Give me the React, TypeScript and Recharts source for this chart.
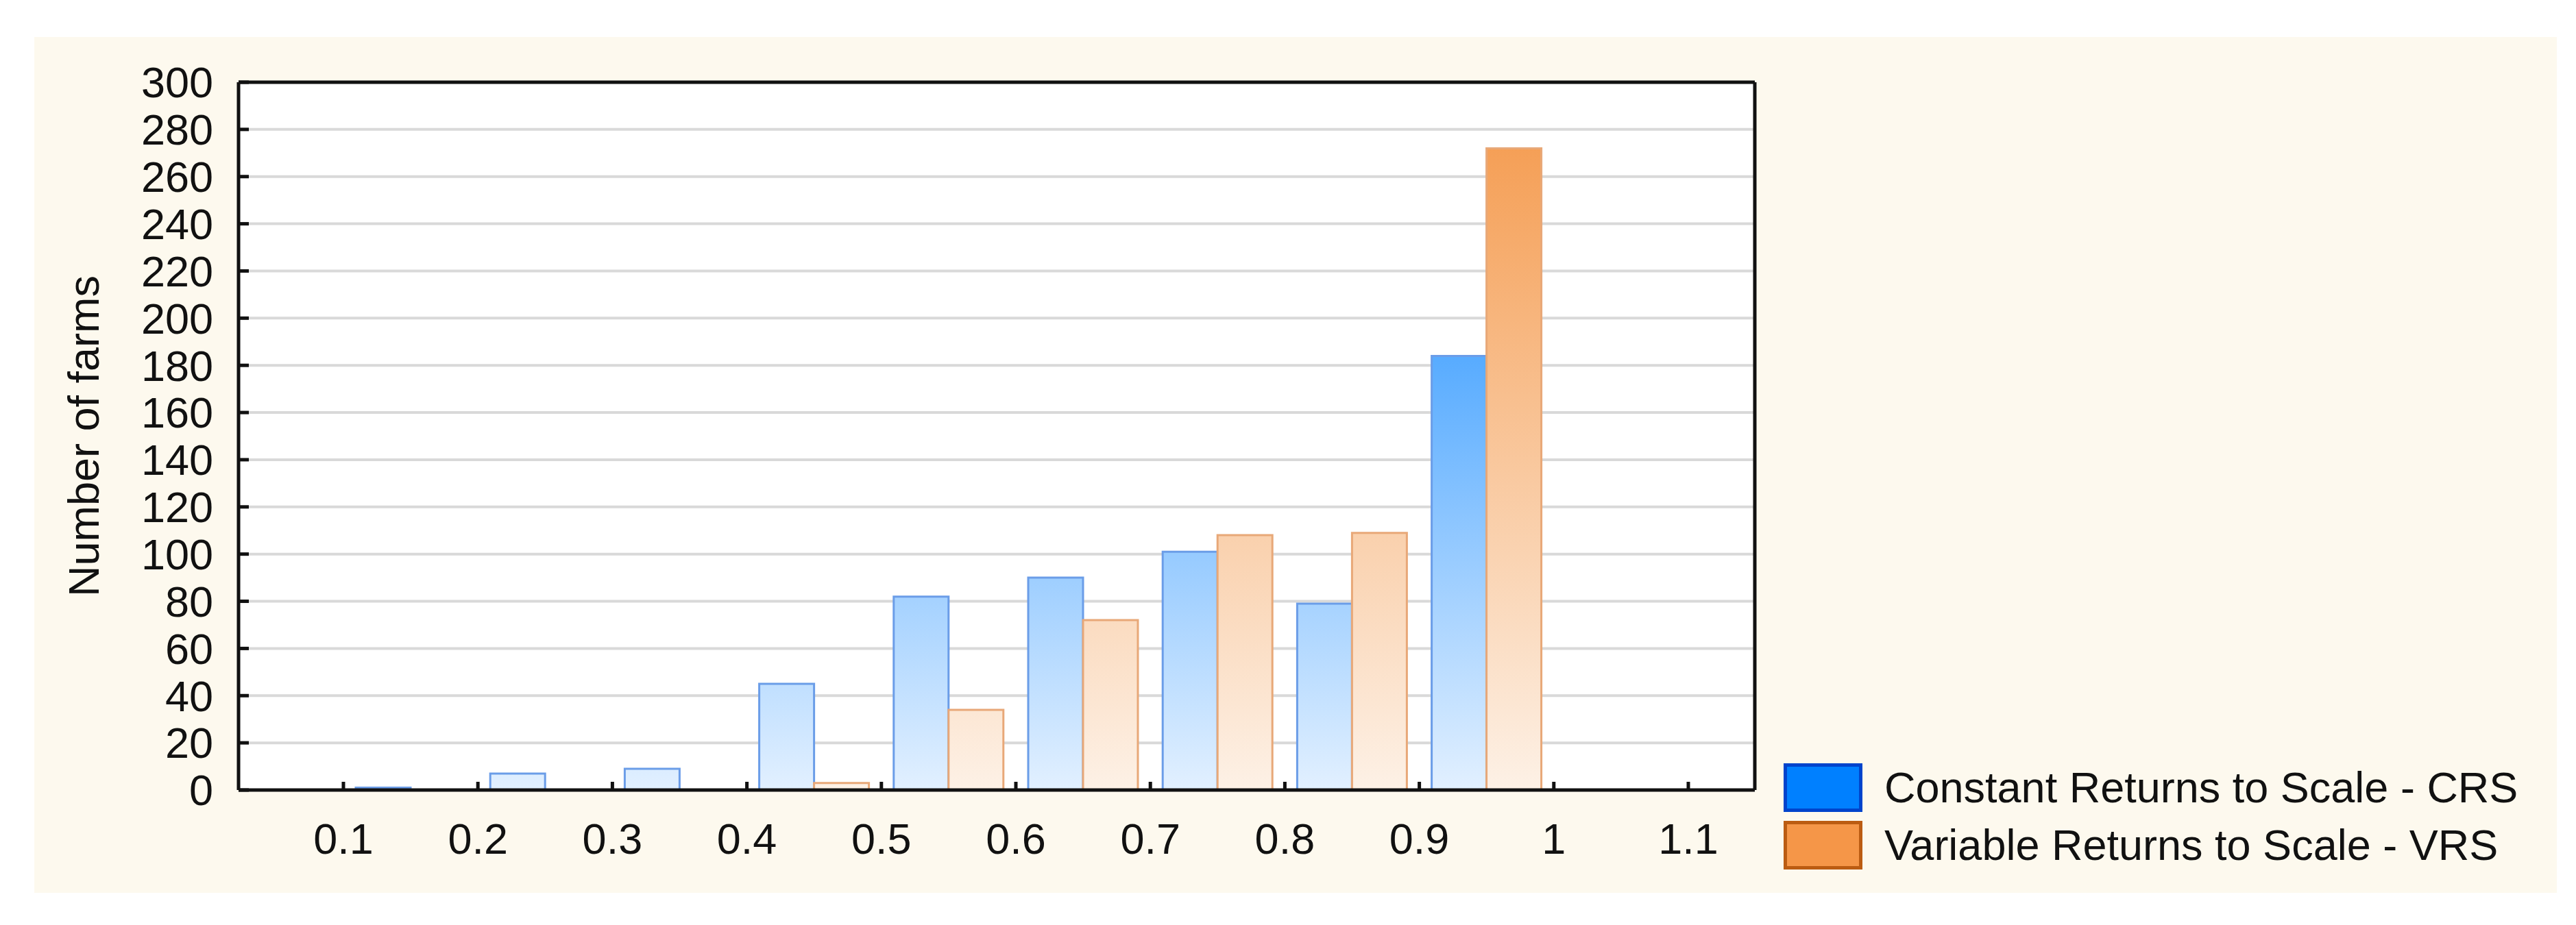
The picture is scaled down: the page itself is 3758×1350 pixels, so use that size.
import { BarChart, Bar, XAxis, YAxis, CartesianGrid, Legend } from "recharts";

// efficiency score bins (mid points) and farm counts per bin
const binMids = [0.15, 0.25, 0.35, 0.45, 0.55, 0.65, 0.75, 0.85, 0.95];
const crsFarms = [1, 7, 9, 45, 82, 90, 101, 79, 184];
const vrsFarms = [0, 0, 0, 3, 34, 72, 108, 109, 272];

const xTicks = [0.1, 0.2, 0.3, 0.4, 0.5, 0.6, 0.7, 0.8, 0.9, 1.0, 1.1];
const xTickLabels = ["0.1", "0.2", "0.3", "0.4", "0.5", "0.6", "0.7", "0.8", "0.9", "1", "1.1"];
const yTicks = [0, 20, 40, 60, 80, 100, 120, 140, 160, 180, 200, 220, 240, 260, 280, 300];

const crsName = "Constant Returns to Scale - CRS";
const vrsName = "Variable Returns to Scale - VRS";

const data = binMids.map((bin, i) => ({ bin, crs: crsFarms[i], vrs: vrsFarms[i] }));

const W = 3758;
const H = 1350;
const PLOT_TOP = 120;
const PLOT_BOTTOM = 1153;
const FONT = "'Liberation Sans', Arial, sans-serif";
const FS = 63;
const INK = "#111111";

const swatches: Record<string, { fill: string; border: string }> = {
  crs: { fill: "#0080ff", border: "#0044cc" },
  vrs: { fill: "#f59648", border: "#bb5c12" },
};

function LegendBox({ payload }: any) {
  return (
    <div style={{ fontFamily: FONT }}>
      {(payload || []).map((entry: any) => {
        const sw = swatches[entry.dataKey] || swatches.crs;
        return (
          <div key={entry.dataKey} style={{ display: "flex", alignItems: "center", height: 71, marginBottom: 13 }}>
            <div
              style={{
                width: 105,
                height: 61,
                background: sw.fill,
                border: `5px solid ${sw.border}`,
              }}
            />
            <span style={{ marginLeft: 32, fontSize: FS, color: INK, whiteSpace: "nowrap", lineHeight: "71px" }}>
              {entry.value}
            </span>
          </div>
        );
      })}
    </div>
  );
}

export default function App() {
  const axisLine = { stroke: INK, strokeWidth: 5 };
  const tickLine = { stroke: INK, strokeWidth: 5 };
  return (
    <div style={{ position: "absolute", left: 0, top: 0, width: W, height: H, background: "#ffffff", fontFamily: FONT }}>
      <div style={{ position: "absolute", left: 50, top: 54, width: 3680, height: 1249, background: "#fdf9ee" }} />
      <div style={{ position: "absolute", left: 0, top: 0 }}>
        <BarChart
          width={W}
          height={H}
          data={data}
          margin={{ top: PLOT_TOP - 1, right: 1197, bottom: 0, left: 48 }}
          barGap={0}
        >
          <defs>
            <linearGradient id="crsGrad" gradientUnits="userSpaceOnUse" x1="0" y1={PLOT_TOP} x2="0" y2={PLOT_BOTTOM}>
              <stop offset="0" stopColor="#0080ff" />
              <stop offset="1" stopColor="#e2f0ff" />
            </linearGradient>
            <linearGradient id="vrsGrad" gradientUnits="userSpaceOnUse" x1="0" y1={PLOT_TOP} x2="0" y2={PLOT_BOTTOM}>
              <stop offset="0" stopColor="#f49748" />
              <stop offset="1" stopColor="#fdf1e6" />
            </linearGradient>
          </defs>
          <CartesianGrid vertical={false} stroke="#d9d9d9" strokeWidth={4} fill="#ffffff" />
          <Bar
            dataKey="crs"
            name={crsName}
            fill="url(#crsGrad)"
            stroke="#6b9de8"
            strokeWidth={3}
            barSize={80}
            isAnimationActive={false}
          />
          <Bar
            dataKey="vrs"
            name={vrsName}
            fill="url(#vrsGrad)"
            stroke="#e8a878"
            strokeWidth={3}
            barSize={80}
            isAnimationActive={false}
          />
          <XAxis
            dataKey="bin"
            type="number"
            domain={[0.1, 1.1]}
            allowDataOverflow
            ticks={xTicks}
            interval={0}
            padding={{ left: 153, right: 97 }}
            height={H - PLOT_BOTTOM}
            tickSize={-12}
            tickMargin={60}
            axisLine={axisLine}
            tickLine={tickLine}
            tickFormatter={(v: number, i: number) => xTickLabels[i] ?? String(v)}
            tick={{ fontSize: FS, fill: INK, fontFamily: FONT }}
          />
          <XAxis
            xAxisId="top"
            orientation="top"
            type="number"
            domain={[0.1, 1.1]}
            allowDataOverflow
            ticks={xTicks}
            interval={0}
            padding={{ left: 153, right: 97 }}
            height={1}
            tickSize={-12}
            axisLine={axisLine}
            tickLine={tickLine}
            tick={false}
          />
          <YAxis
            type="number"
            domain={[0, 300]}
            allowDataOverflow
            ticks={yTicks}
            interval={0}
            width={300}
            tickSize={-15}
            tickMargin={52}
            axisLine={axisLine}
            tickLine={tickLine}
            tick={{ fontSize: FS, fill: INK, fontFamily: FONT }}
            label={{
              value: "Number of farms",
              angle: -90,
              position: "center",
              dx: -76,
              style: { fontSize: FS, fill: INK, fontFamily: FONT },
            }}
          />
          <YAxis
            yAxisId="right"
            orientation="right"
            type="number"
            domain={[0, 300]}
            allowDataOverflow
            ticks={yTicks}
            interval={0}
            width={1}
            tickSize={-15}
            axisLine={axisLine}
            tickLine={tickLine}
            tick={false}
          />
          <Legend
            layout="vertical"
            align="center"
            verticalAlign="middle"
            content={<LegendBox />}
            wrapperStyle={{ position: "absolute", left: 2602, top: 1114, width: 1150, height: "auto" }}
          />
        </BarChart>
      </div>
    </div>
  );
}
